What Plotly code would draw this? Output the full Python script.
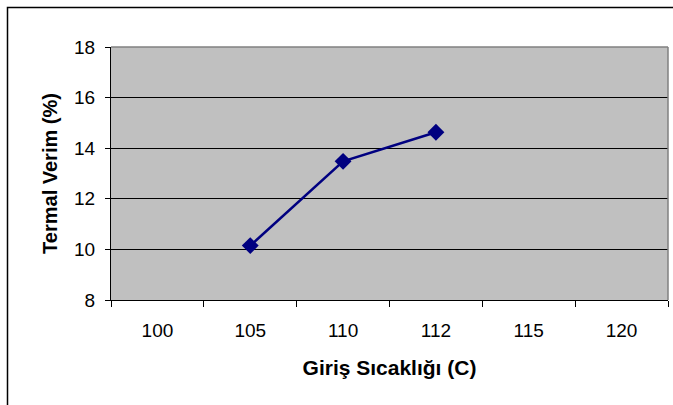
import plotly.graph_objects as go

# Inlet temperature categories and measured thermal efficiency
categories = ["100", "105", "110", "112", "115", "120"]
x_points = ["105", "110", "112"]
efficiency = [10.15, 13.48, 14.63]
y_ticks = [8, 10, 12, 14, 16, 18]

W, H = 673, 405
ML, MR, MT, MB = 111, 5, 47, 105
pw, ph = W - ML - MR, H - MT - MB

font = dict(family="Liberation Sans, Arial, sans-serif", color="black")

fig = go.Figure()
fig.add_trace(go.Scatter(
    x=x_points, y=efficiency, mode="lines+markers",
    line=dict(color="#000080", width=2.5),
    marker=dict(symbol="diamond", size=13, color="#000080"),
    showlegend=False, cliponaxis=False,
))

fig.update_layout(
    width=W, height=H,
    margin=dict(l=ML, r=MR, t=MT, b=MB),
    paper_bgcolor="white", plot_bgcolor="#C0C0C0",
    font=dict(size=19, **font),
    xaxis=dict(
        type="category", categoryorder="array", categoryarray=categories,
        range=[-0.5, len(categories) - 0.5],
        tickmode="array", tickvals=categories, ticktext=categories,
        tickson="boundaries", ticks="outside", ticklen=6, tickcolor="black",
        showgrid=False, showline=True, linecolor="black", linewidth=1,
        mirror=False, ticklabelstandoff=13,
        tickfont=dict(size=19, **font),
        title=dict(text="<b>Giriş Sıcaklığı (C)</b>", standoff=20,
                   font=dict(size=21, **font)),
    ),
    yaxis=dict(
        range=[8, 18], tickmode="array", tickvals=y_ticks,
        ticks="outside", ticklen=5, tickcolor="black",
        showgrid=True, gridcolor="black", gridwidth=1,
        showline=True, linecolor="black", linewidth=1,
        zeroline=False, ticklabelstandoff=6,
        tickfont=dict(size=19, **font),
        title=dict(text="<b>Termal Verim (%)</b>", standoff=11,
                   font=dict(size=20, **font)),
    ),
)

# Gray frame around the plotting area (top and right)
fig.add_shape(type="line", xref="paper", yref="paper", x0=0, x1=1, y0=1, y1=1,
              line=dict(color="#808080", width=1.5))
fig.add_shape(type="line", xref="paper", yref="paper", x0=1, x1=1, y0=0, y1=1,
              line=dict(color="#808080", width=1.5))

# Outer chart border (left and top edges inside the page)
bx0 = (7.5 - ML) / pw
by1 = (H - MB - 7.5) / ph
fig.add_shape(type="rect", xref="paper", yref="paper",
              x0=bx0, x1=(W + 10 - ML) / pw, y0=-(MB + 10) / ph, y1=by1,
              line=dict(color="black", width=1.5), layer="below")

fig.write_html("out.html")
